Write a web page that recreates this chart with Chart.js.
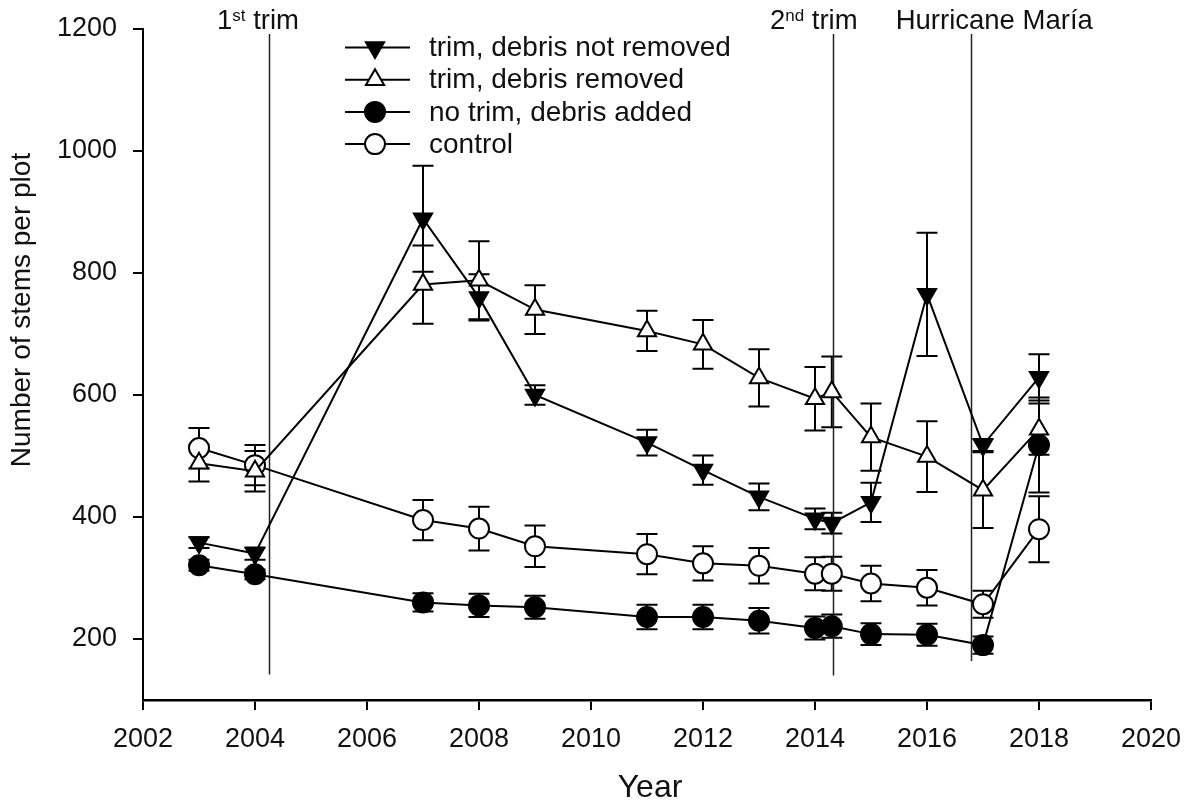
<!DOCTYPE html>
<html>
<head>
<meta charset="utf-8">
<title>Number of stems per plot</title>
<script src="https://cdn.jsdelivr.net/npm/chart.js@4.4.1/dist/chart.umd.min.js"></script>
<style>
  html, body { margin: 0; padding: 0; background: #fff; }
  #wrap { width: 1188px; height: 803px; position: relative; }
</style>
</head>
<body>
<div id="wrap"><canvas id="c" width="1188" height="803"></canvas></div>
<script>
// ---- data ----
const years = [2003, 2004, 2007, 2008, 2009, 2011, 2012, 2013, 2014, 2014.3, 2015, 2016, 2017, 2018];

const trimNotRemoved    = [358, 340, 889, 760, 600, 522, 477, 433, 397, 390, 424, 765, 518, 629];
const trimNotRemovedErr = [  9,  10,  87,  38,  16,  21,  24,  22,  17,  17,  32, 101,  10,  38];

const trimRemoved       = [488, 475, 781, 788, 740, 705, 683, 628, 594, 605, 531, 499, 444, 544];
const trimRemovedErr    = [ 30,  33,  64,  64,  40,  33,  40,  47,  52,  58,  55,  58,  62,  42];

const noTrimAdded       = [321, 306, 260, 255, 252, 236, 236, 230, 218, 221, 208, 207, 190, 518];
const noTrimAddedErr    = [  9,   8,  15,  19,  19,  20,  20,  21,  19,  19,  18,  18,  14,  78];

const control           = [513, 485, 395, 381, 352, 339, 324, 320, 307, 307, 291, 284, 257, 380];
const controlErr        = [ 33,  33,  33,  36,  34,  33,  28,  29,  27,  28,  29,  29,  22,  54];

const seriesNames = ['trim, debris not removed', 'trim, debris removed', 'no trim, debris added', 'control'];

const xTicks = [2002, 2004, 2006, 2008, 2010, 2012, 2014, 2016, 2018, 2020];
const yTicks = [200, 400, 600, 800, 1000, 1200];

// management events: year, top and bottom of the marker line, label parts (base, superscript, rest)
const eventYears   = [2004.25, 2014.32, 2016.78];
const eventTop     = [1192, 1192, 1192];
const eventBottom  = [142, 140, 164];
const eventLabels  = [['1', 'st', ' trim'], ['2', 'nd', ' trim'], ['Hurricane María', '', '']];

// ---- styling ----
const FONT = "'Liberation Sans', Arial, Helvetica, sans-serif";
const INK = '#111';
const labelOffsets = [-52, -63, -75];   // label start relative to event line, px

function pts(vals) { return years.map((x, i) => ({ x: x, y: vals[i] })); }

function series(label, vals, errs, style, rotation, fillColor, radius) {
  return {
    label: label,
    data: pts(vals),
    errors: errs,
    showLine: true,
    borderColor: '#000',
    borderWidth: 2,
    tension: 0,
    fill: false,
    pointStyle: style,
    rotation: rotation,
    pointRadius: radius,
    pointHoverRadius: radius,
    pointBackgroundColor: fillColor,
    pointBorderColor: '#000',
    pointBorderWidth: 2
  };
}

const datasets = [
  series(seriesNames[0], trimNotRemoved, trimNotRemovedErr, 'triangle', 180, '#000', 10.5),
  series(seriesNames[1], trimRemoved, trimRemovedErr, 'triangle', 0, '#fff', 10.5),
  series(seriesNames[2], noTrimAdded, noTrimAddedErr, 'circle', 0, '#000', 10),
  series(seriesNames[3], control, controlErr, 'circle', 0, '#fff', 10)
];

// vertical error bars with caps, drawn beneath the markers
const errorBars = {
  id: 'errorBars',
  beforeDatasetsDraw(chart) {
    const { ctx, scales: { x, y } } = chart;
    ctx.save();
    ctx.strokeStyle = '#000';
    ctx.lineWidth = 2;
    chart.data.datasets.forEach(ds => {
      ds.data.forEach((p, i) => {
        const e = ds.errors[i];
        const px = x.getPixelForValue(p.x);
        const yt = y.getPixelForValue(p.y + e);
        const yb = y.getPixelForValue(p.y - e);
        ctx.beginPath();
        ctx.moveTo(px, yt); ctx.lineTo(px, yb);
        ctx.moveTo(px - 10.5, yt); ctx.lineTo(px + 10.5, yt);
        ctx.moveTo(px - 10.5, yb); ctx.lineTo(px + 10.5, yb);
        ctx.stroke();
      });
    });
    ctx.restore();
  }
};

// event lines and their labels
const events = {
  id: 'events',
  beforeDatasetsDraw(chart) {
    const { ctx, scales: { x, y } } = chart;
    ctx.save();
    ctx.strokeStyle = '#222';
    ctx.lineWidth = 1.5;
    eventYears.forEach((yr, i) => {
      const px = Math.round(x.getPixelForValue(yr)) + 0.5;
      ctx.beginPath();
      ctx.moveTo(px, y.getPixelForValue(eventTop[i]));
      ctx.lineTo(px, y.getPixelForValue(eventBottom[i]));
      ctx.stroke();
    });
    ctx.restore();
  },
  afterDraw(chart) {
    const { ctx, scales: { x } } = chart;
    ctx.save();
    ctx.fillStyle = INK;
    ctx.textBaseline = 'alphabetic';
    ctx.textAlign = 'left';
    eventYears.forEach((yr, i) => {
      const [base, sup, rest] = eventLabels[i];
      let cx = x.getPixelForValue(yr) + labelOffsets[i];
      const baseY = 29;
      ctx.font = `27.5px ${FONT}`;
      ctx.fillText(base, cx, baseY);
      cx += ctx.measureText(base).width;
      if (sup) {
        ctx.font = `17px ${FONT}`;
        ctx.fillText(sup, cx, baseY - 8);
        cx += ctx.measureText(sup).width;
      }
      if (rest) {
        ctx.font = `27.5px ${FONT}`;
        ctx.fillText(rest, cx, baseY);
      }
    });
    ctx.restore();
  }
};

// legend in the upper part of the plot: line segment, marker, name
const legendBox = {
  id: 'legendBox',
  afterDraw(chart) {
    const { ctx } = chart;
    const x0 = 345, x1 = 410, mx = 375, tx = 429, top = 47.5, gap = 32.2;
    ctx.save();
    chart.data.datasets.forEach((ds, i) => {
      const cy = top + i * gap;
      ctx.strokeStyle = '#000';
      ctx.lineWidth = 2;
      ctx.beginPath();
      ctx.moveTo(x0, cy); ctx.lineTo(x1, cy);
      ctx.stroke();
      ctx.fillStyle = ds.pointBackgroundColor;
      ctx.strokeStyle = ds.pointBorderColor;
      ctx.lineWidth = ds.pointBorderWidth;
      Chart.helpers.drawPoint(ctx, {
        pointStyle: ds.pointStyle, rotation: ds.rotation, radius: ds.pointRadius, borderWidth: ds.pointBorderWidth
      }, mx, cy);
      ctx.fillStyle = INK;
      ctx.font = `28px ${FONT}`;
      ctx.textAlign = 'left';
      ctx.textBaseline = 'middle';
      ctx.fillText(ds.label, tx, cy + 1);
    });
    ctx.restore();
  }
};

// axis titles
const axisTitles = {
  id: 'axisTitles',
  afterDraw(chart) {
    const { ctx, chartArea } = chart;
    ctx.save();
    ctx.fillStyle = INK;
    ctx.textAlign = 'center';
    ctx.textBaseline = 'alphabetic';
    ctx.font = `32px ${FONT}`;
    ctx.fillText('Year', (chartArea.left + chartArea.right) / 2 + 3, 797);
    ctx.translate(30, 310);
    ctx.rotate(-Math.PI / 2);
    ctx.font = `28px ${FONT}`;
    ctx.fillText('Number of stems per plot', 0, 0);
    ctx.restore();
  }
};

new Chart(document.getElementById('c'), {
  type: 'line',
  data: { datasets: datasets },
  options: {
    responsive: false,
    animation: false,
    devicePixelRatio: 1,
    layout: { padding: { top: 29, right: 37, left: 0, bottom: 0 } },
    plugins: { legend: { display: false }, tooltip: { enabled: false } },
    scales: {
      x: {
        type: 'linear',
        position: 'bottom',
        min: xTicks[0],
        max: xTicks[xTicks.length - 1],
        afterBuildTicks(s) { s.ticks = xTicks.map(v => ({ value: v })); },
        afterFit(s) { s.height = 103; s.paddingLeft = 0; s.paddingRight = 0; },
        ticks: {
          color: INK,
          font: { family: FONT, size: 27 },
          padding: 13,
          maxRotation: 0,
          autoSkip: false,
          callback: v => String(v)
        },
        grid: { display: true, drawOnChartArea: false, drawTicks: true, tickLength: 10, color: '#000', lineWidth: 2 },
        border: { display: true, color: '#000', width: 2.5 }
      },
      y: {
        type: 'linear',
        position: 'left',
        min: 100,
        max: 1200,
        afterBuildTicks(s) { s.ticks = yTicks.map(v => ({ value: v })); },
        afterFit(s) { s.width = 143; s.paddingTop = 0; s.paddingBottom = 0; },
        ticks: {
          color: INK,
          font: { family: FONT, size: 27 },
          padding: 16,
          autoSkip: false,
          callback: v => String(v)
        },
        grid: { display: true, drawOnChartArea: false, drawTicks: true, tickLength: 10, color: '#000', lineWidth: 2 },
        border: { display: true, color: '#000', width: 2 }
      }
    }
  },
  plugins: [errorBars, events, legendBox, axisTitles]
});
</script>
</body>
</html>
